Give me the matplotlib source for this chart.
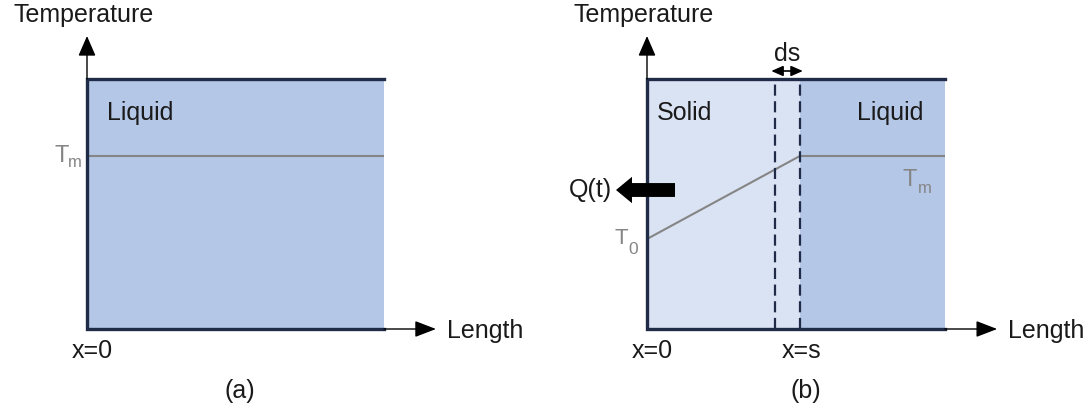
import numpy as np
import matplotlib
matplotlib.use('Agg')
import matplotlib.pyplot as plt
from matplotlib.transforms import offset_copy

plt.rcParams['font.family'] = ['Liberation Sans', 'DejaVu Sans']

# values (length and temperature scaled to 0..1)
Tm = 0.692
T0 = 0.36
s_front = 0.513
ds = 0.084
length_a = [0.0, 1.0]
temp_a = [Tm, Tm]
length_b = [0.0, s_front, 1.0]
temp_b = [T0, Tm, Tm]
panel_labels = ['(a)', '(b)']

liquid_col = '#b4c7e7'
solid_col = '#dae3f3'
edge_col = '#1f2b47'
gray = '#858585'
txt = '#1a1a1a'

fig = plt.figure(figsize=(10.91, 4.13), dpi=100)
ax_a = fig.add_axes([87/1091, 84/413, 297/1091, 250/413])
ax_b = fig.add_axes([647/1091, 84/413, 298/1091, 250/413])


def sub_label(ax, x, y, main, sub, main_size, sub_size, sub_w, drop):
    # x, y = right edge and baseline of the label; sub_w, drop in pixels
    tr_main = offset_copy(ax.transData, fig=fig, x=-sub_w * 0.72, y=0, units='points')
    ax.text(x, y, main, transform=tr_main, ha='right', va='baseline', fontsize=main_size,
            color=gray, clip_on=False)
    tr_sub = offset_copy(ax.transData, fig=fig, x=0, y=-drop * 0.72, units='points')
    ax.text(x, y, sub, transform=tr_sub, ha='right', va='baseline', fontsize=sub_size,
            color=gray, clip_on=False)


def frame(ax):
    ax.set_xlim(0, 1)
    ax.set_ylim(0, 1)
    ax.axis('off')
    # axis arrows
    ax.annotate('', xy=(0, 1.172), xytext=(0, 1.0), annotation_clip=False,
                arrowprops=dict(arrowstyle='-|>,head_length=0.62,head_width=0.27', mutation_scale=20,
                                color='black', lw=1.0, shrinkA=0, shrinkB=0))
    ax.annotate('', xy=(1.175, 0), xytext=(1.0, 0), annotation_clip=False,
                arrowprops=dict(arrowstyle='-|>,head_length=0.65,head_width=0.25', mutation_scale=20,
                                color='black', lw=1.0, shrinkA=0, shrinkB=0))
    ax.text(-0.013, 1.228, 'Temperature', ha='center', va='baseline', fontsize=18, color=txt, clip_on=False)
    ax.text(1.211, -0.036, 'Length', ha='left', va='baseline', fontsize=18, color=txt, clip_on=False)
    ax.text(0.018, -0.116, 'x=0', ha='center', va='baseline', fontsize=18, color=txt, clip_on=False)


# panel (a)
frame(ax_a)
ax_a.fill_between([0, 1], 0, 1, color=liquid_col, lw=0)
ax_a.plot(length_a, temp_a, color=gray, lw=1.5)
ax_a.plot([1, 0, 0, 1], [1, 1, 0, 0], color=edge_col, lw=2.4, solid_joinstyle='miter', clip_on=False)
ax_a.text(0.067, 0.836, 'Liquid', fontsize=18, color=txt, va='baseline')
sub_label(ax_a, -0.017, 0.668, 'T', 'm', 17, 12, 13, 5)
ax_a.text(0.515, -0.276, panel_labels[0], ha='center', va='baseline', fontsize=18, color=txt, clip_on=False)

# panel (b)
frame(ax_b)
ax_b.fill_between([0, s_front], 0, 1, color=solid_col, lw=0)
ax_b.fill_between([s_front, 1], 0, 1, color=liquid_col, lw=0)
ax_b.plot(length_b, temp_b, color=gray, lw=1.5)
for xd in [s_front - ds, s_front]:
    ax_b.plot([xd, xd], [0, 1], color=edge_col, lw=1.6, ls=(0, (5, 2.5)), clip_on=False)
ax_b.plot([1, 0, 0, 1], [1, 1, 0, 0], color=edge_col, lw=2.4, solid_joinstyle='miter', clip_on=False)
ax_b.text(0.034, 0.836, 'Solid', fontsize=18, color=txt, va='baseline')
ax_b.text(0.705, 0.836, 'Liquid', fontsize=18, color=txt, va='baseline')
sub_label(ax_b, 0.956, 0.572, 'T', 'm', 17, 12, 15, 7)
sub_label(ax_b, -0.03, 0.34, 'T', '0', 16, 12.5, 10, 10)
ax_b.text(s_front - ds / 2, 1.072, 'ds', ha='center', va='baseline', fontsize=18, color=txt, clip_on=False)
ax_b.annotate('', xy=(s_front + 0.01, 1.032), xytext=(s_front - ds - 0.012, 1.032), annotation_clip=False,
              arrowprops=dict(arrowstyle='<|-|>,head_length=0.5,head_width=0.22', mutation_scale=14,
                              color='black', lw=1.2, shrinkA=0, shrinkB=0))
# heat flux arrow
ax_b.annotate('', xy=(-0.104, 0.556), xytext=(0.094, 0.556), annotation_clip=False,
              arrowprops=dict(arrowstyle='simple,head_length=1.15,head_width=1.9,tail_width=1.0',
                              mutation_scale=10, color='black', lw=0, shrinkA=0, shrinkB=0))
ax_b.text(-0.117, 0.528, 'Q(t)', ha='right', va='baseline', fontsize=18, color=txt, clip_on=False)
ax_b.text(0.52, -0.116, 'x=s', ha='center', va='baseline', fontsize=18, color=txt, clip_on=False)
ax_b.text(0.534, -0.276, panel_labels[1], ha='center', va='baseline', fontsize=18, color=txt, clip_on=False)

fig.savefig('out.png', dpi=100)
